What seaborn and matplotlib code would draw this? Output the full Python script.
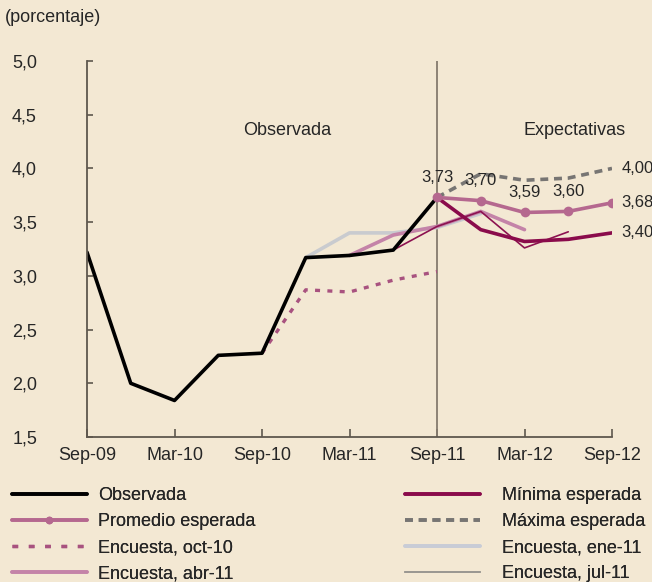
import numpy as np
import matplotlib as mpl
mpl.use('Agg')

import matplotlib.pyplot as plt
import matplotlib.ticker as mticker
from matplotlib.lines import Line2D
import seaborn as sns
import pandas as pd

# global params
fig_dims = (6.52, 5.82)
font_size = 13
bg = '#f3e8d3'

# quarters: Sep-09 .. Sep-12 (index 0..12)
periods = ['Sep-09', 'Dic-09', 'Mar-10', 'Jun-10', 'Sep-10', 'Dic-10', 'Mar-11',
           'Jun-11', 'Sep-11', 'Dic-11', 'Mar-12', 'Jun-12', 'Sep-12']
tick_labels = ['Sep-09', 'Mar-10', 'Sep-10', 'Mar-11', 'Sep-11', 'Mar-12', 'Sep-12']

observada = [3.22, 2.00, 1.84, 2.26, 2.28, 3.17, 3.19, 3.24, 3.73]     # Sep-09 .. Sep-11
enc_oct10 = [2.28, 2.87, 2.85, 2.96, 3.04]                             # Sep-10 .. Sep-11
enc_ene11 = [3.17, 3.40, 3.40, 3.45, 3.58]                             # Dic-10 .. Dic-11
enc_abr11 = [3.19, 3.38, 3.46, 3.60, 3.43]                             # Mar-11 .. Mar-12
enc_jul11 = [3.24, 3.46, 3.60, 3.26, 3.41]                             # Jun-11 .. Jun-12
promedio = [3.73, 3.70, 3.59, 3.60, 3.68]                              # Sep-11 .. Sep-12
minima = [3.73, 3.43, 3.32, 3.34, 3.40]
maxima = [3.73, 3.95, 3.89, 3.91, 4.00]


def series(values, start):
    return pd.DataFrame({'t': np.arange(start, start + len(values)), 'v': values})


def comma(x, pos=None, fmt='{:.1f}'):
    return fmt.format(x).replace('.', ',')


def main():
    sns.set_style('ticks', {'axes.facecolor': bg, 'figure.facecolor': bg})
    plt.rcParams['font.family'] = ['Liberation Sans', 'DejaVu Sans']
    plt.rcParams['font.size'] = font_size

    fig = plt.figure(figsize=fig_dims, dpi=100)
    ax = fig.add_axes([87 / 652, 1 - 437 / 582, (612 - 87) / 652, (437 - 61) / 582])
    ax.set_facecolor(bg)

    # vertical divider at Sep-11
    ax.axvline(8, color='#857b6e', lw=1.3, zorder=1)

    specs = [
        # label, data, start, style
        ('Encuesta, ene-11', enc_ene11, 5, dict(color='#c9cbcf', lw=2.6)),
        ('Encuesta, oct-10', enc_oct10, 4, dict(color='#a8527f', lw=2.4, dashes=(1.5, 2.2))),
        ('Encuesta, abr-11', enc_abr11, 6, dict(color='#c483a8', lw=2.6)),
        ('Encuesta, jul-11', enc_jul11, 7, dict(color='#8c1250', lw=1.2)),
        ('Mínima esperada', minima, 8, dict(color='#8a0b4b', lw=2.6)),
        ('Máxima esperada', maxima, 8, dict(color='#777573', lw=2.6, dashes=(2.2, 1.6))),
        ('Observada', observada, 0, dict(color='black', lw=2.6)),
        ('Promedio esperada', promedio, 8, dict(color='#b5688f', lw=2.6, marker='o', markersize=7,
                                                  markeredgewidth=0)),
    ]
    handles = {}
    for label, vals, start, style in specs:
        df = series(vals, start)
        sns.lineplot(data=df, x='t', y='v', ax=ax, **style)
        handles[label] = Line2D([], [], **style)
    # legend swatches that differ from the drawn lines
    handles['Encuesta, jul-11'] = Line2D([], [], color='#9b9892', lw=1.4)
    handles['Encuesta, ene-11'] = Line2D([], [], color='#c8ccd6', lw=2.6)
    handles['Promedio esperada'] = Line2D([], [], color='#b5688f', lw=2.6, marker='o',
                                          markersize=5.5, markeredgewidth=0)
    handles['Encuesta, oct-10'] = Line2D([], [], color='#a8527f', lw=2.4, dashes=(1.7, 3.2))

    # data labels
    for i, v in enumerate(promedio[:4]):
        ax.annotate(comma(v, fmt='{:.2f}'), (8 + i, v), xytext=(0, 9), textcoords='offset points',
                    ha='center', va='bottom', fontsize=font_size - 1)
    for v in (maxima[-1], promedio[-1], minima[-1]):
        ax.annotate(comma(v, fmt='{:.2f}'), (12, v), xytext=(7, 0), textcoords='offset points',
                    ha='left', va='center', fontsize=font_size - 1, annotation_clip=False)

    ax.text(4.57, 4.35, 'Observada', ha='center', va='center', fontsize=font_size)
    ax.text(11.15, 4.35, 'Expectativas', ha='center', va='center', fontsize=font_size)

    ax.set_xlim(0, 12)
    ax.set_ylim(1.5, 5.0)
    ax.set_xticks(np.arange(0, 13, 2))
    ax.set_xticklabels(tick_labels)
    ax.set_yticks(np.arange(1.5, 5.01, 0.5))
    ax.yaxis.set_major_formatter(mticker.FuncFormatter(comma))
    ax.set_xlabel('')
    ax.set_ylabel('')
    sns.despine(ax=ax)
    for s in ('left', 'bottom'):
        ax.spines[s].set_color('#5e574d')
        ax.spines[s].set_linewidth(1.3)
    ax.tick_params(axis='x', direction='in', length=6, width=1.2, color='#5e574d', pad=7,
                   labelsize=font_size)
    ax.tick_params(axis='y', direction='in', length=4, width=1.2, color='#5e574d', pad=36,
                   labelsize=font_size)

    fig.text(5 / 652, 1 - 18 / 582, '(porcentaje)', ha='left', va='center', fontsize=font_size)

    left = ['Observada', 'Promedio esperada', 'Encuesta, oct-10', 'Encuesta, abr-11']
    right = ['Mínima esperada', 'Máxima esperada', 'Encuesta, ene-11', 'Encuesta, jul-11']
    for names, x0, gap in ((left, 12 / 652, 0.6), (right, 405 / 652, 1.2)):
        leg = fig.legend([handles[n] for n in names], names, loc='upper left',
                         bbox_to_anchor=(x0, 1 - 487 / 582), frameon=False, borderpad=0,
                         borderaxespad=0, handlelength=4.15, handletextpad=gap,
                         labelspacing=0.5, fontsize=font_size)
        fig.add_artist(leg)

    plt.savefig('out.png', dpi=100, facecolor=bg)
    plt.close()


if __name__ == "__main__":
    main()
